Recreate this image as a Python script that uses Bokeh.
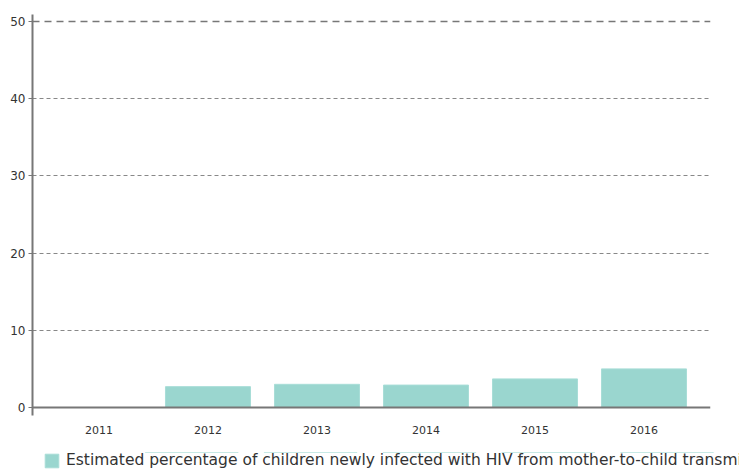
from bokeh.plotting import figure
from bokeh.layouts import column, row
from bokeh.models import Range1d, Span, Legend, LegendItem, FixedTicker, ColumnDataSource
from bokeh.embed import file_html
from bokeh.resources import INLINE

years = ["2011", "2012", "2013", "2014", "2015", "2016"]
values = [0, 2.7, 3.0, 2.9, 3.7, 5.0]
y_ticks = [0, 10, 20, 30, 40, 50]
series_name = "Estimated percentage of children newly infected with HIV from mother-to-child transmission"

BAR_FILL = "#9ad6cf"
BAR_LINE = "#a8ddd7"

idx = list(range(len(years)))
src = ColumnDataSource(dict(x=idx[1:], top=values[1:]))

p = figure(frame_width=678, frame_height=401, output_backend="svg", toolbar_location=None,
           x_range=Range1d(-0.61, 5.61), y_range=Range1d(-1.04, 50.91),
           min_border_left=32, min_border_top=14, min_border_right=29, min_border_bottom=37)
p.outline_line_color = None

r = p.vbar(x="x", top="top", bottom=0, width=0.78, source=src,
           fill_color=BAR_FILL, line_color=BAR_LINE, line_width=1)

# grid
p.xgrid.visible = False
p.ygrid.ticker = FixedTicker(ticks=[10, 20, 30, 40])
p.ygrid.grid_line_color = "#888888"
p.ygrid.grid_line_dash = "4 3"
p.ygrid.grid_line_width = 1
top_line = Span(location=50, dimension="width", line_color="#777777", line_width=1.5, line_dash="7 5")
p.add_layout(top_line)
zero_line = Span(location=0, dimension="width", line_color="#777777", line_width=2)
p.add_layout(zero_line)

# y axis
p.yaxis.ticker = FixedTicker(ticks=y_ticks)
p.yaxis.axis_line_color = "#777777"
p.yaxis.axis_line_width = 2
p.yaxis.major_tick_line_color = "#777777"
p.yaxis.major_tick_out = 4
p.yaxis.major_tick_in = 0
p.yaxis.minor_tick_line_color = None
p.yaxis.major_label_text_font = "DejaVu Sans"
p.yaxis.major_label_text_font_size = "12px"
p.yaxis.major_label_text_color = "#333333"
p.yaxis.major_label_standoff = 3

# x axis
p.xaxis.ticker = FixedTicker(ticks=idx)
p.xaxis.major_label_overrides = {i: y for i, y in enumerate(years)}
p.xaxis.axis_line_color = None
p.xaxis.major_tick_line_color = None
p.xaxis.minor_tick_line_color = None
p.xaxis.major_label_text_font = "DejaVu Sans"
p.xaxis.major_label_text_font_size = "11px"
p.xaxis.major_label_text_color = "#333333"
p.xaxis.major_label_standoff = 4

# legend strip below the chart (same series, its bars kept out of this strip's view)
lg = figure(width=739, height=18, output_backend="svg", toolbar_location=None,
            min_border=0, x_axis_location=None, y_axis_location=None,
            x_range=Range1d(-0.61, 5.61), y_range=Range1d(-2, -1))
lg.grid.visible = False
lg.outline_line_color = None
lr = lg.vbar(x="x", top="top", bottom=0, width=0.78, source=src,
             fill_color=BAR_FILL, line_color=BAR_LINE, line_width=1)
legend = Legend(items=[LegendItem(label=series_name, renderers=[lr])],
                location=(43, 1), orientation="horizontal", padding=0, margin=0,
                border_line_color=None, background_fill_alpha=0,
                glyph_width=17, glyph_height=17,
                label_standoff=6, label_text_font="DejaVu Sans",
                label_text_font_size="15.5px", label_text_color="#333333")
lg.add_layout(legend)

layout = column(p, row(lg, spacing=0), spacing=0)
open("out.html", "w").write(file_html(layout, INLINE))
